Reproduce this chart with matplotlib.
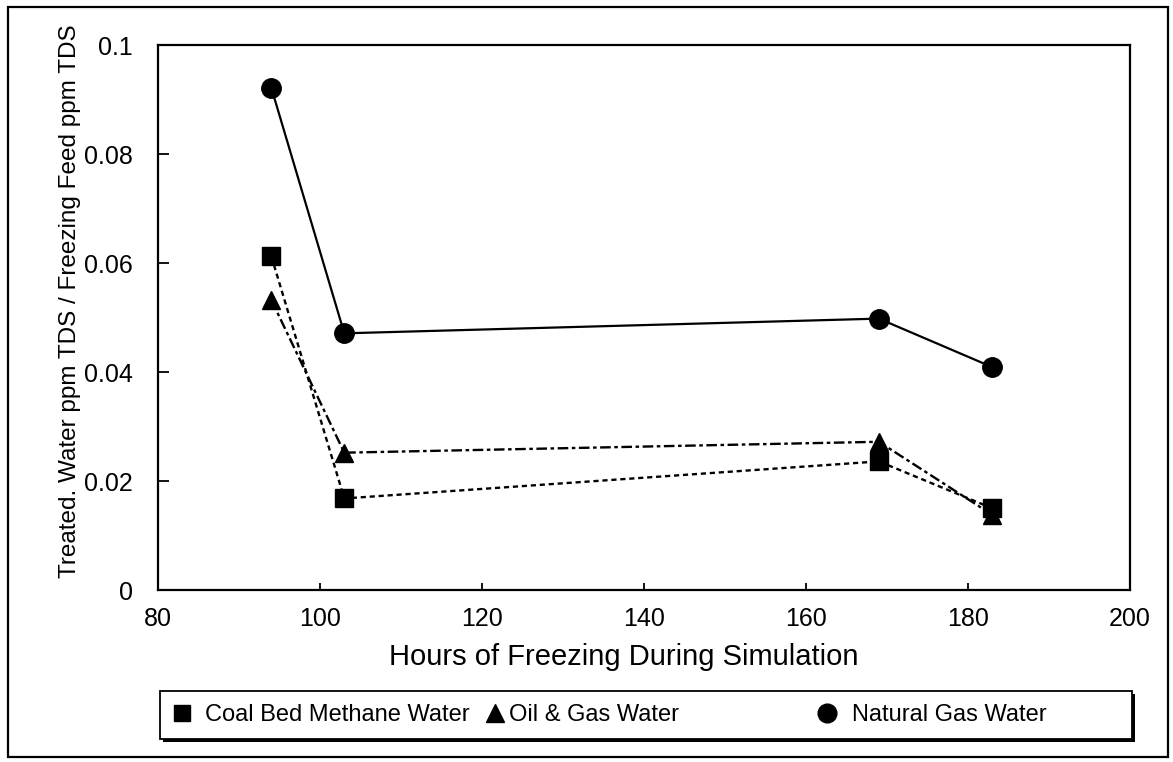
import matplotlib
matplotlib.use("Agg")
import matplotlib.pyplot as plt
from matplotlib.lines import Line2D
from matplotlib.patches import Rectangle

plt.rcParams["font.family"] = ["Liberation Sans", "DejaVu Sans"]

##################################################
# Data
hours = [94, 103, 169, 183]
coal_bed = [0.0612, 0.0168, 0.0236, 0.0150]
oil_gas = [0.0532, 0.0252, 0.0272, 0.0138]
natural_gas = [0.0921, 0.0471, 0.0498, 0.0409]

labels = ["Coal Bed Methane Water", "Oil & Gas Water", "Natural Gas Water"]
x_ticks = [80, 100, 120, 140, 160, 180, 200]
y_ticks = [0, 0.02, 0.04, 0.06, 0.08, 0.1]
y_ticklabels = ["0", "0.02", "0.04", "0.06", "0.08", "0.1"]

##################################################
# Plot
fig = plt.figure(figsize=(11.73, 7.62), dpi=100)
ax = fig.add_axes([0.1347, 0.2257, 0.8286, 0.7152])

ax.plot(hours, coal_bed, color="black", lw=1.7, ls=(0, (2.2, 1.6)),
        marker="s", ms=12.5, label=labels[0])
ax.plot(hours, oil_gas, color="black", lw=1.7, ls=(0, (4.5, 1.5, 1.5, 1.5)),
        marker="^", ms=13, label=labels[1])
ax.plot(hours, natural_gas, color="black", lw=1.6, ls="-",
        marker="o", ms=14, label=labels[2])

ax.set_xlim(80, 200)
ax.set_ylim(0, 0.1)
ax.set_xticks(x_ticks)
ax.set_yticks(y_ticks)
ax.set_yticklabels(y_ticklabels)
ax.tick_params(axis="both", direction="in", labelsize=18, width=1.3)
ax.tick_params(axis="x", length=5, pad=12)
ax.tick_params(axis="y", length=8, pad=18)
for spine in ax.spines.values():
    spine.set_linewidth(1.6)

ax.set_xlabel("Hours of Freezing During Simulation", fontsize=21,
              labelpad=9, x=0.479)
ax.set_ylabel("Treated. Water ppm TDS / Freezing Feed ppm TDS", fontsize=17.5,
              labelpad=2, y=0.53)

# legend box with a dark drop edge on the right and bottom
box_x, box_y, box_w, box_h = 0.1364, 0.0300, 0.8286, 0.0630
fig.patches.append(Rectangle((box_x + 0.0025, box_y - 0.0040), box_w, box_h,
                             transform=fig.transFigure, facecolor="black",
                             edgecolor="none"))
fig.patches.append(Rectangle((box_x, box_y), box_w, box_h,
                             transform=fig.transFigure, facecolor="white",
                             edgecolor="black", lw=1.3))

markers = ["s", "^", "o"]
sizes = [11, 12.5, 13.5]
anchors = [0.1449, 0.4118, 0.6948]
text_pads = [0.48, 0.10, 0.55]
for lab, mk, sz, xa, tp in zip(labels, markers, sizes, anchors, text_pads):
    handle = Line2D([], [], color="black", ls="none", marker=mk, ms=sz)
    fig.legend([handle], [lab], loc="center left",
               bbox_to_anchor=(xa, box_y + box_h / 2), frameon=False,
               fontsize=17, handlelength=1.0, handletextpad=tp,
               borderpad=0, borderaxespad=0)

# outer border around the whole figure
fig.patches.append(Rectangle((0.0068, 0.0066), 0.9890, 0.9842,
                             transform=fig.transFigure, facecolor="none",
                             edgecolor="black", lw=1.6))

fig.savefig("out.png", dpi=100)
